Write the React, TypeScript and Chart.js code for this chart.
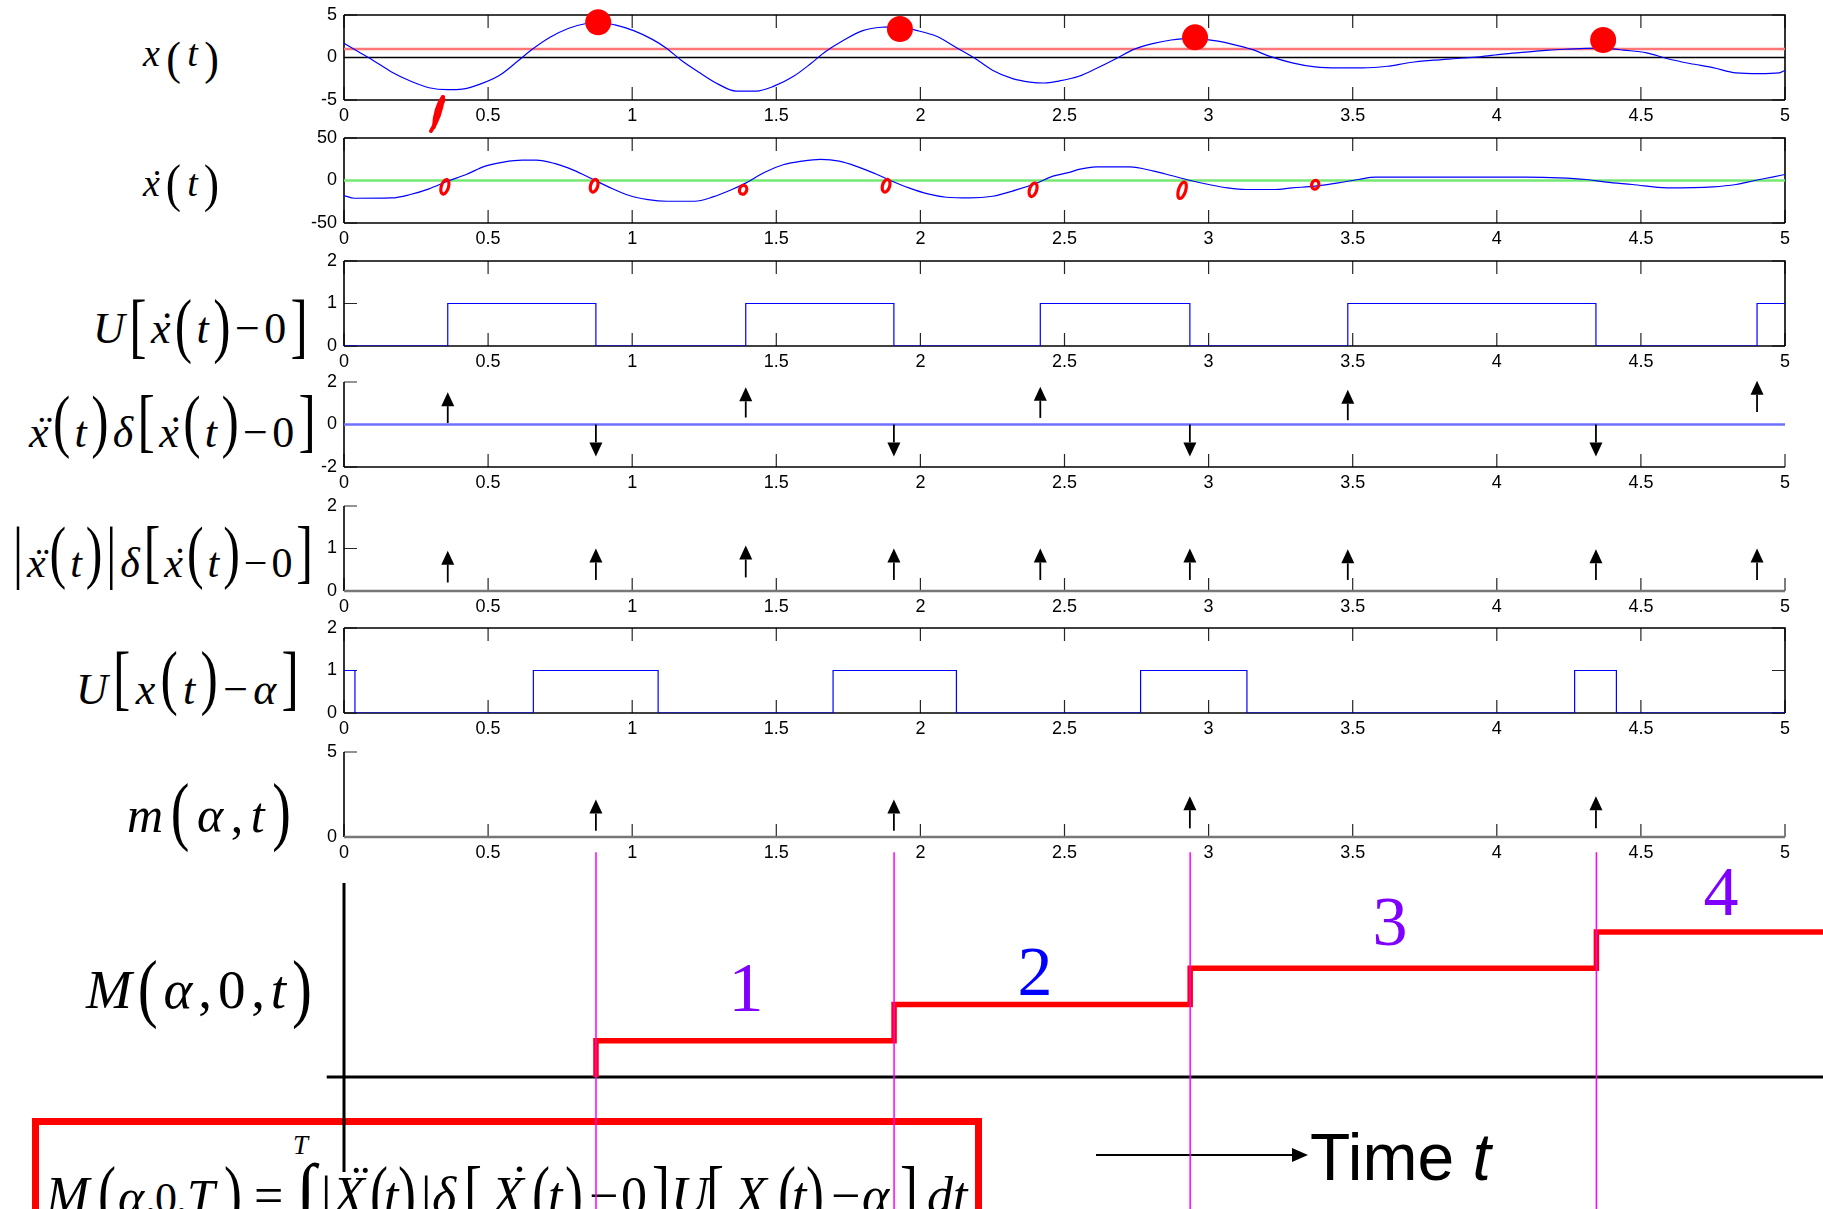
import React, { useEffect, useRef } from 'react';
import { Chart, registerables } from 'chart.js';

Chart.register(...registerables);

const SANS = "'Liberation Sans', Arial, Helvetica, sans-serif";
const SERIF = "'Liberation Serif', 'Times New Roman', Times, serif";

// ---- axis ticks ----
const T_TICKS = [0, 0.5, 1, 1.5, 2, 2.5, 3, 3.5, 4, 4.5, 5];
const T_TICK_LABELS = ['0', '0.5', '1', '1.5', '2', '2.5', '3', '3.5', '4', '4.5', '5'];
const X_Y_TICKS = [-5, 0, 5];
const XDOT_Y_TICKS = [-50, 0, 50];
const UNIT_TICKS = [0, 1, 2];
const SIGNED_TICKS = [-2, 0, 2];
const M_TICKS = [0, 5];

// ---- threshold ----
const ALPHA = 1;

// ---- displacement x(t) ----
const X_T = [0, 0.05, 0.1, 0.165, 0.23, 0.295, 0.36, 0.41, 0.47, 0.54,
  0.6, 0.65, 0.715, 0.78, 0.845, 0.885, 0.94, 1.005, 1.07, 1.12,
  1.17, 1.23, 1.3, 1.36, 1.43, 1.49, 1.56, 1.62, 1.67, 1.735,
  1.8, 1.865, 1.915, 1.99, 2.06, 2.12, 2.19, 2.25, 2.32, 2.38,
  2.43, 2.48, 2.55, 2.61, 2.68, 2.74, 2.81, 2.87, 2.935, 3.02,
  3.08, 3.15, 3.21, 3.29, 3.37, 3.45, 3.535, 3.62, 3.7, 3.78,
  3.86, 3.94, 4.02, 4.1, 4.18, 4.25, 4.31, 4.35, 4.38, 4.44,
  4.52, 4.59, 4.67, 4.75, 4.83, 4.91, 4.98, 5.0];
const X_V = [1.66, 0.67, -0.32, -1.7, -2.77, -3.56, -3.79, -3.72, -3.16, -2.09,
  -0.51, 0.87, 2.37, 3.44, 4.03, 4.15, 3.83, 3.16, 2.13, 1.07,
  -0.32, -1.7, -3.16, -3.95, -3.95, -3.4, -2.21, -0.71, 0.67, 2.06,
  3.16, 3.56, 3.6, 3.16, 2.45, 1.26, -0.12, -1.5, -2.49, -2.89,
  -3.0, -2.77, -2.21, -1.3, -0.12, 0.95, 1.66, 2.06, 2.25, 1.98,
  1.58, 0.95, 0.16, -0.63, -1.11, -1.23, -1.23, -1.03, -0.59, -0.32,
  -0.12, 0.08, 0.4, 0.63, 0.87, 0.99, 1.07, 1.1, 1.07, 0.87,
  0.55, -0.12, -0.71, -1.19, -1.82, -1.9, -1.82, -1.5];

// ---- peak markers on x(t) ----
const PEAK_T = [0.882, 1.929, 2.953, 4.369];
const PEAK_V = [4.15, 3.36, 2.37, 2.06];

// ---- velocity x'(t) ----
const XD_T = [0, 0.036, 0.165, 0.23, 0.295, 0.36, 0.424, 0.49, 0.553, 0.618,
  0.667, 0.73, 0.796, 0.86, 0.925, 0.99, 1.055, 1.12, 1.217, 1.28,
  1.346, 1.395, 1.46, 1.524, 1.59, 1.654, 1.718, 1.783, 1.85, 1.896,
  1.96, 2.026, 2.09, 2.17, 2.25, 2.33, 2.4, 2.46, 2.52, 2.55,
  2.61, 2.727, 2.81, 2.87, 2.937, 3.0, 3.066, 3.13, 3.228, 3.29,
  3.37, 3.45, 3.52, 3.58, 3.78, 4.1, 4.215, 4.31, 4.38, 4.47,
  4.59, 4.75, 4.83, 4.895, 4.96, 5.0];
const XD_V = [-17.7, -20.9, -20.5, -16.5, -9.8, -0.8, 7.1, 16.9, 21.7, 24.0,
  24.0, 20.1, 12.2, 2.0, -8.7, -17.7, -22.5, -24.4, -24.4, -19.3,
  -10.6, -2.8, 9.8, 18.5, 22.8, 24.8, 22.8, 16.1, 7.1, 0,
  -8.7, -15.8, -19.7, -20.5, -18.5, -11.4, -3.5, 5.1, 9.8, 13.0,
  16.1, 16.1, 11.0, 5.9, 0, -4.7, -8.7, -10.6, -10.6, -8.7,
  -6.7, -2.8, 1.2, 3.9, 3.9, 3.9, 3.2, 1.2, -2.0, -4.7,
  -8.7, -7.5, -4.7, 0, 4.3, 7.1];

// hand-written marks at the velocity zero crossings
const SCRIBBLE_T = [0.35, 0.868, 1.385, 1.881, 2.391, 2.908, 3.37];
const SCRIBBLE_V = [-7.4, -6.2, -10.9, -6.2, -10.9, -11.5, -5.0];
const SCRIBBLE_R = [7.5, 6.5, 4.5, 6.5, 7.0, 8.5, 4.5];
const HOOK_T = 0.34;

// ---- step functions: switching times ----
const UDOT_EDGES = [0.36, 0.874, 1.394, 1.908, 2.416, 2.935, 3.483, 4.344, 4.903];
const UDOT_START = 0;
const UX_EDGES = [0.038, 0.657, 1.09, 1.697, 2.125, 2.764, 3.133, 4.27, 4.415];
const UX_START = 1;

// ---- impulses at the extrema ----
const EXT_T = [0.36, 0.874, 1.394, 1.908, 2.416, 2.935, 3.483, 4.344, 4.903];
const SIGNED_FROM = [0.07, 0, 0.33, 0, 0.31, 0, 0.2, 0, 0.59];
const SIGNED_TO = [1.52, -1.5, 1.75, -1.5, 1.78, -1.5, 1.64, -1.5, 2.06];
const ABS_FROM = [0.2, 0.26, 0.32, 0.26, 0.26, 0.26, 0.26, 0.26, 0.26];
const ABS_TO = [0.95, 1.0, 1.07, 1.0, 1.0, 1.0, 0.98, 0.98, 1.0];

// ---- counted maxima above alpha ----
const EVENT_T = [0.874, 1.908, 2.935, 4.344];
const M_FROM = [0.37, 0.37, 0.51, 0.51];
const M_TO = [2.2, 2.2, 2.4, 2.4];
const M_LEVELS = [1, 2, 3, 4];
const M_LABEL_COLORS = ['#7f00ff', '#0000ff', '#7f00ff', '#7f00ff'];

// ---- layout ----
const W = 1823;
const H = 1209;
const PANEL_H = 85;
const PAD_TOP = 20;
const Y_AXIS_W = 60;
const X_AXIS_H = 35;
const TICK = 13;

type Pt = { x: number; y: number };
const pairs = (ts: number[], vs: number[]): Pt[] => ts.map((t, i) => ({ x: t, y: vs[i] }));
const hline = (v: number, a = 0, b = 5): Pt[] => [{ x: a, y: v }, { x: b, y: v }];
const squareWave = (edges: number[], start: number): Pt[] => {
  const pts: Pt[] = [{ x: 0, y: start }];
  let lvl = start;
  for (const e of edges) {
    pts.push({ x: e, y: lvl });
    lvl = 1 - lvl;
    pts.push({ x: e, y: lvl });
  }
  pts.push({ x: 5, y: lvl });
  return pts;
};

const lineDs = (data: Pt[], color: string, width: number, extra: any = {}) => ({
  data, borderColor: color, borderWidth: width, pointRadius: 0, fill: false, ...extra,
});

interface Panel {
  top: number; yMin: number; yMax: number; yTicks: number[];
  box: boolean; baseColor: string; baseWidth: number;
  datasets: () => any[]; extras: () => any[];
}

function axesPlugin(p: Panel) {
  return {
    id: 'matlabAxes',
    beforeDatasetsDraw(chart: any) {
      const { ctx, chartArea: a } = chart;
      const xs = chart.scales.x;
      const ys = chart.scales.y;
      ctx.save();
      ctx.strokeStyle = '#262626';
      ctx.lineWidth = 1.2;
      ctx.beginPath();
      for (const v of T_TICKS) {
        const px = xs.getPixelForValue(v);
        ctx.moveTo(px, a.bottom); ctx.lineTo(px, a.bottom - TICK);
        if (p.box) { ctx.moveTo(px, a.top); ctx.lineTo(px, a.top + TICK); }
      }
      for (const v of p.yTicks) {
        const py = ys.getPixelForValue(v);
        ctx.moveTo(a.left, py); ctx.lineTo(a.left + TICK, py);
        if (p.box) { ctx.moveTo(a.right, py); ctx.lineTo(a.right - TICK, py); }
      }
      ctx.stroke();
      ctx.strokeStyle = '#000';
      ctx.lineWidth = 1.6;
      ctx.beginPath();
      ctx.moveTo(a.left, a.top); ctx.lineTo(a.left, a.bottom);
      if (p.box) { ctx.moveTo(a.left, a.top); ctx.lineTo(a.right, a.top); ctx.lineTo(a.right, a.bottom); }
      ctx.stroke();
      ctx.strokeStyle = p.baseColor;
      ctx.lineWidth = p.baseWidth;
      ctx.beginPath();
      ctx.moveTo(a.left, a.bottom); ctx.lineTo(a.right, a.bottom);
      ctx.stroke();
      ctx.restore();
    },
  };
}

function arrowPlugin(ts: number[], from: number[], to: number[]) {
  return {
    id: 'impulseArrows',
    afterDatasetsDraw(chart: any) {
      const { ctx } = chart;
      const xs = chart.scales.x;
      const ys = chart.scales.y;
      const HL = 14;
      const HW = 6.5;
      ctx.save();
      ctx.fillStyle = '#000';
      ctx.strokeStyle = '#000';
      ctx.lineWidth = 1.8;
      ts.forEach((t, i) => {
        const px = xs.getPixelForValue(t);
        const y0 = ys.getPixelForValue(from[i]);
        const y1 = ys.getPixelForValue(to[i]);
        const dir = y1 < y0 ? -1 : 1;
        ctx.beginPath();
        ctx.moveTo(px, y0);
        ctx.lineTo(px, y1 - dir * HL);
        ctx.stroke();
        ctx.beginPath();
        ctx.moveTo(px, y1);
        ctx.lineTo(px - HW, y1 - dir * HL);
        ctx.lineTo(px + HW, y1 - dir * HL);
        ctx.closePath();
        ctx.fill();
      });
      ctx.restore();
    },
  };
}

const scribblePlugin = {
  id: 'zeroMarks',
  afterDatasetsDraw(chart: any) {
    const { ctx } = chart;
    const xs = chart.scales.x;
    const ys = chart.scales.y;
    ctx.save();
    ctx.strokeStyle = '#ff0000';
    ctx.lineWidth = 3.2;
    SCRIBBLE_T.forEach((t, i) => {
      const px = xs.getPixelForValue(t);
      const py = ys.getPixelForValue(SCRIBBLE_V[i]);
      ctx.beginPath();
      ctx.ellipse(px, py, 3.6, SCRIBBLE_R[i], 0.3, 0, Math.PI * 2);
      ctx.stroke();
    });
    ctx.restore();
  },
};

const hookPlugin = {
  id: 'hookMark',
  afterDatasetsDraw(chart: any) {
    const { ctx, chartArea: a } = chart;
    const px = chart.scales.x.getPixelForValue(HOOK_T);
    const y0 = a.bottom;
    ctx.save();
    ctx.strokeStyle = '#ff0000';
    ctx.fillStyle = '#ff0000';
    ctx.lineWidth = 4;
    ctx.lineCap = 'round';
    ctx.beginPath();
    ctx.moveTo(px + 1, y0 - 3);
    ctx.quadraticCurveTo(px - 1, y0 + 16, px - 11, y0 + 31);
    ctx.stroke();
    ctx.beginPath();
    ctx.moveTo(px + 1, y0 - 3);
    ctx.quadraticCurveTo(px - 7, y0 + 8, px - 8, y0 + 27);
    ctx.stroke();
    ctx.beginPath();
    ctx.ellipse(px, y0 + 1, 3, 5, 0.3, 0, Math.PI * 2);
    ctx.fill();
    ctx.restore();
  },
};

const PANELS: Panel[] = [
  {
    top: 15, yMin: -5, yMax: 5, yTicks: X_Y_TICKS, box: true, baseColor: '#000', baseWidth: 1.6,
    datasets: () => [
      { data: pairs(PEAK_T, PEAK_V), showLine: false, pointRadius: 13, pointBackgroundColor: '#ff0000', pointBorderWidth: 0, clip: false },
      lineDs(pairs(X_T, X_V), '#0000ff', 1.2, { cubicInterpolationMode: 'monotone' }),
      lineDs(hline(ALPHA), '#ff7777', 2.5),
      lineDs(hline(0), '#000000', 1.5),
    ],
    extras: () => [hookPlugin],
  },
  {
    top: 138, yMin: -50, yMax: 50, yTicks: XDOT_Y_TICKS, box: true, baseColor: '#000', baseWidth: 1.6,
    datasets: () => [
      lineDs(pairs(XD_T, XD_V), '#0000ff', 1.2, { cubicInterpolationMode: 'monotone' }),
      lineDs(hline(0), '#74e874', 2.5),
    ],
    extras: () => [scribblePlugin],
  },
  {
    top: 261, yMin: 0, yMax: 2, yTicks: UNIT_TICKS, box: true, baseColor: '#000', baseWidth: 1.6,
    datasets: () => [lineDs(squareWave(UDOT_EDGES, UDOT_START), '#0000ff', 1.2)],
    extras: () => [],
  },
  {
    top: 382, yMin: -2, yMax: 2, yTicks: SIGNED_TICKS, box: false, baseColor: '#000', baseWidth: 1.6,
    datasets: () => [lineDs(hline(0), '#7070ff', 2.5)],
    extras: () => [arrowPlugin(EXT_T, SIGNED_FROM, SIGNED_TO)],
  },
  {
    top: 506, yMin: 0, yMax: 2, yTicks: UNIT_TICKS, box: false, baseColor: '#777', baseWidth: 2.5,
    datasets: () => [],
    extras: () => [arrowPlugin(EXT_T, ABS_FROM, ABS_TO)],
  },
  {
    top: 628, yMin: 0, yMax: 2, yTicks: UNIT_TICKS, box: true, baseColor: '#000', baseWidth: 1.6,
    datasets: () => [lineDs(squareWave(UX_EDGES, UX_START), '#0000ff', 1.2)],
    extras: () => [],
  },
  {
    top: 752, yMin: 0, yMax: 5, yTicks: M_TICKS, box: false, baseColor: '#777', baseWidth: 2.5,
    datasets: () => [],
    extras: () => [arrowPlugin(EVENT_T, M_FROM, M_TO)],
  },
];

const panelHeight = PAD_TOP + PANEL_H + X_AXIS_H;

function panelConfig(p: Panel): any {
  const tickFont = { family: SANS, size: 18 };
  return {
    type: 'line',
    data: { datasets: p.datasets() },
    options: {
      animation: false,
      responsive: false,
      events: [],
      layout: { padding: { left: 344 - Y_AXIS_W, right: W - 1785, top: PAD_TOP, bottom: 0 } },
      plugins: { legend: { display: false }, tooltip: { enabled: false }, title: { display: false } },
      scales: {
        x: {
          type: 'linear', min: 0, max: 5,
          afterFit: (s: any) => { s.height = X_AXIS_H; },
          afterBuildTicks: (s: any) => { s.ticks = T_TICKS.map((v) => ({ value: v })); },
          grid: { display: false, drawTicks: false },
          border: { display: false },
          ticks: {
            font: tickFont, color: '#000', padding: 5, maxRotation: 0, autoSkip: false,
            callback: (_v: any, i: number) => T_TICK_LABELS[i],
          },
        },
        y: {
          type: 'linear', min: p.yMin, max: p.yMax,
          afterFit: (s: any) => { s.width = Y_AXIS_W; },
          afterBuildTicks: (s: any) => { s.ticks = p.yTicks.map((v) => ({ value: v })); },
          grid: { display: false, drawTicks: false },
          border: { display: false },
          ticks: { font: tickFont, color: '#000', padding: 7, autoSkip: false, callback: (v: any) => String(v) },
        },
      },
    },
    plugins: [axesPlugin(p), ...p.extras()],
  };
}

// ---- cumulative count chart ----
const B_TOP = 845;
const B_H = H - B_TOP;
const B_XMAX = 5.13;
const B_YMIN = -2.62;
const B_YMAX = 5.35;

function bottomConfig(): any {
  const steps: Pt[] = [];
  let prev = 0;
  EVENT_T.forEach((t, i) => {
    steps.push({ x: t, y: prev });
    steps.push({ x: t, y: M_LEVELS[i] });
    prev = M_LEVELS[i];
  });
  steps.push({ x: B_XMAX, y: prev });
  return {
    type: 'line',
    data: {
      datasets: [
        ...EVENT_T.map((t) => lineDs([{ x: t, y: 6.2 }, { x: t, y: -3.8 }], '#ff00ff', 1.5, { clip: false })),
        lineDs(steps, '#ff0000', 5.5, { clip: false }),
        lineDs([{ x: 0, y: B_YMIN }, { x: 0, y: B_YMAX }], '#000', 3, { clip: false }),
        lineDs([{ x: -0.06, y: 0 }, { x: B_XMAX, y: 0 }], '#000', 3, { clip: false }),
      ],
    },
    options: {
      animation: false,
      responsive: false,
      events: [],
      layout: { padding: { left: 344, right: 0, top: 883 - B_TOP, bottom: H - 1172 } },
      plugins: { legend: { display: false }, tooltip: { enabled: false }, title: { display: false } },
      scales: {
        x: { type: 'linear', display: false, min: 0, max: B_XMAX },
        y: { type: 'linear', display: false, min: B_YMIN, max: B_YMAX },
      },
    },
  };
}

// ---- math labels ----
type Tok = [string, string];
const LBL_X: Tok[] = [['x', 'i'], ['(', 'd'], ['t', 'i'], [')', 'd']];
const LBL_XD: Tok[] = [['x', 'x1'], ['(', 'd'], ['t', 'i'], [')', 'd']];
const LBL_U: Tok[] = [['U', 'i'], ['[', 'd'], ['x', 'x1'], ['(', 'd'], ['t', 'i'], [')', 'd'], ['\u2212', 'r'], ['0', 'r'], [']', 'd']];
const LBL_SD: Tok[] = [['x', 'x2'], ['(', 'd'], ['t', 'i'], [')', 'd'], ['\u03b4', 'i'], ['[', 'd'], ['x', 'x1'], ['(', 'd'], ['t', 'i'], [')', 'd'], ['\u2212', 'r'], ['0', 'r'], [']', 'd']];
const LBL_AD: Tok[] = [['|', 'd'], ['x', 'x2'], ['(', 'd'], ['t', 'i'], [')', 'd'], ['|', 'd'], ['\u03b4', 'i'], ['[', 'd'], ['x', 'x1'], ['(', 'd'], ['t', 'i'], [')', 'd'], ['\u2212', 'r'], ['0', 'r'], [']', 'd']];
const LBL_UX: Tok[] = [['U', 'i'], ['[', 'd'], ['x', 'i'], ['(', 'd'], ['t', 'i'], [')', 'd'], ['\u2212', 'r'], ['\u03b1', 'i'], [']', 'd']];
const LBL_M: Tok[] = [['m', 'i'], ['(', 'd'], ['\u03b1', 'i'], [',', 'r'], ['t', 'i'], [')', 'd']];
const LBL_MM: Tok[] = [['M', 'i'], ['(', 'd'], ['\u03b1', 'i'], [',', 'r'], ['0', 'r'], [',', 'r'], ['t', 'i'], [')', 'd']];

const LABELS = [
  { toks: LBL_X, x0: 143, x1: 219, base: 67, F: 38, D: 44, h: 40, c: 4 },
  { toks: LBL_XD, x0: 143, x1: 219, base: 197, F: 38, D: 46, h: 45, c: 8 },
  { toks: LBL_U, x0: 93, x1: 308, base: 344, F: 44, D: 52, h: 61, c: 12 },
  { toks: LBL_SD, x0: 29, x1: 316, base: 448, F: 44, D: 52, h: 60, c: 20 },
  { toks: LBL_AD, x0: 13, x1: 313, base: 577, F: 42, D: 50, h: 60, c: 20 },
  { toks: LBL_UX, x0: 76, x1: 299, base: 705, F: 44, D: 52, h: 62, c: 21 },
  { toks: LBL_M, x0: 127, x1: 291, base: 832, F: 50, D: 56, h: 65, c: 15 },
  { toks: LBL_MM, x0: 86, x1: 312, base: 1008, F: 55, D: 60, h: 65, c: 14 },
];

// formula inside the framed box: [text, x, kind, size]
const FORMULA_BASE = 1214;
const FORMULA: [string, number, string, number][] = [
  ['M', 46, 'i', 52], ['(', 98, 'd', 54], ['\u03b1', 118, 'i', 50], [',', 145, 'r', 46], ['0', 155, 'r', 44],
  [',', 176, 'r', 46], ['T', 187, 'i', 50], [')', 224, 'd', 54], ['=', 254, 'r', 52], ['\u222b', 296, 'r', 72],
  ['|', 321, 'r', 52], ['X', 333, 'x2', 52], ['(', 370, 'd', 54], ['t', 384, 'i', 52], [')', 398, 'd', 54],
  ['|', 421, 'r', 52], ['\u03b4', 432, 'i', 52], ['[', 464, 'd', 54], ['X', 492, 'x1', 52], ['(', 532, 'd', 54],
  ['t', 548, 'i', 52], [')', 565, 'd', 54], ['\u2212', 589, 'r', 52], ['0', 621, 'r', 52], [']', 652, 'd', 54],
  ['U', 671, 'i', 52], ['[', 706, 'd', 54], ['X', 735, 'i', 52], ['(', 778, 'd', 54], ['t', 792, 'i', 52],
  [')', 806, 'd', 54], ['\u2212', 831, 'r', 52], ['\u03b1', 862, 'i', 52], [']', 900, 'd', 54], ['dt', 927, 'i', 52],
];

function Glyph({ s, k, F, D, h, c }: { s: string; k: string; F: number; D: number; h: number; c: number }) {
  if (k === 'd') {
    const sy = h / (0.85 * D);
    const dy = 0.25 * D - c;
    return (
      <span style={{ display: 'block', fontSize: D, lineHeight: 1, fontStyle: 'normal', transformOrigin: '50% 0.5875em', transform: `translateY(${dy}px) scaleY(${sy})` }}>{s}</span>
    );
  }
  const italic = k !== 'r';
  const dot = k === 'x1' ? '\u02d9' : k === 'x2' ? '\u00a8' : null;
  const capital = s !== s.toLowerCase();
  return (
    <span style={{ display: 'block', position: 'relative', fontSize: F, lineHeight: 1, fontStyle: italic ? 'italic' : 'normal' }}>
      {s}
      {dot && (
        <span style={{ position: 'absolute', left: capital ? '0.3em' : '0.14em', right: 0, top: capital ? '-0.22em' : 0, textAlign: 'center' }}>{dot}</span>
      )}
    </span>
  );
}

export default function App() {
  const panelRefs = useRef<(HTMLCanvasElement | null)[]>([]);
  const bottomRef = useRef<HTMLCanvasElement | null>(null);

  useEffect(() => {
    const charts: Chart[] = [];
    PANELS.forEach((p, i) => {
      const c = panelRefs.current[i];
      if (c) charts.push(new Chart(c, panelConfig(p)));
    });
    if (bottomRef.current) charts.push(new Chart(bottomRef.current, bottomConfig()));
    return () => charts.forEach((c) => c.destroy());
  }, []);

  return (
    <div style={{ position: 'fixed', left: 0, top: 0, width: W, height: H, overflow: 'hidden', background: '#fff', fontFamily: SERIF, color: '#000' }}>
      {LABELS.map((L, i) => (
        <div key={'lbl' + i} style={{
          position: 'absolute', left: L.x0, width: L.x1 - L.x0, top: L.base - 0.8375 * Math.max(L.F, L.D),
          display: 'flex', justifyContent: 'space-between', alignItems: 'baseline', whiteSpace: 'nowrap',
        }}>
          {L.toks.map((t, j) => <Glyph key={j} s={t[0]} k={t[1]} F={L.F} D={L.D} h={L.h} c={L.c} />)}
        </div>
      ))}

      {/* framed integral definition */}
      <div style={{ position: 'absolute', left: 32, top: 1118, width: 950, height: 200, border: '7px solid #ff0000', boxSizing: 'border-box' }} />
      <div style={{ position: 'absolute', left: 293, top: 1155 - 0.8375 * 27, fontSize: 27, lineHeight: 1, fontStyle: 'italic' }}>T</div>
      {FORMULA.map(([s, x, k, size], i) => (
        <div key={'f' + i} style={{ position: 'absolute', left: x, top: FORMULA_BASE - 0.8375 * size }}>
          <Glyph s={s} k={k} F={size} D={size} h={64} c={14} />
        </div>
      ))}

      {/* count labels */}
      {[746, 1035, 1390, 1721].map((cx, i) => {
        const base = [1012, 996, 946, 916][i];
        return (
          <div key={'n' + i} style={{ position: 'absolute', left: cx, top: base - 0.8375 * 70, transform: 'translateX(-50%)', fontSize: 70, lineHeight: 1, color: M_LABEL_COLORS[i] }}>
            {M_LEVELS[i]}
          </div>
        );
      })}

      {/* time direction */}
      <div style={{ position: 'absolute', left: 1096, top: 1154, width: 198, height: 2, background: '#000' }} />
      <div style={{ position: 'absolute', left: 1292, top: 1155 - 7, width: 0, height: 0, borderTop: '7px solid transparent', borderBottom: '7px solid transparent', borderLeft: '16px solid #000' }} />
      <div style={{ position: 'absolute', left: 1310, top: 1180 - 0.8465 * 66, fontFamily: SANS, fontSize: 66, lineHeight: 1, whiteSpace: 'nowrap' }}>
        Time <span style={{ fontStyle: 'italic' }}>t</span>
      </div>

      {PANELS.map((p, i) => (
        <canvas
          key={'c' + i}
          ref={(el) => { panelRefs.current[i] = el; }}
          width={W}
          height={panelHeight}
          style={{ position: 'absolute', left: 0, top: p.top - PAD_TOP, width: W, height: panelHeight }}
        />
      ))}
      <canvas
        ref={bottomRef}
        width={W}
        height={B_H}
        style={{ position: 'absolute', left: 0, top: B_TOP, width: W, height: B_H }}
      />
    </div>
  );
}
